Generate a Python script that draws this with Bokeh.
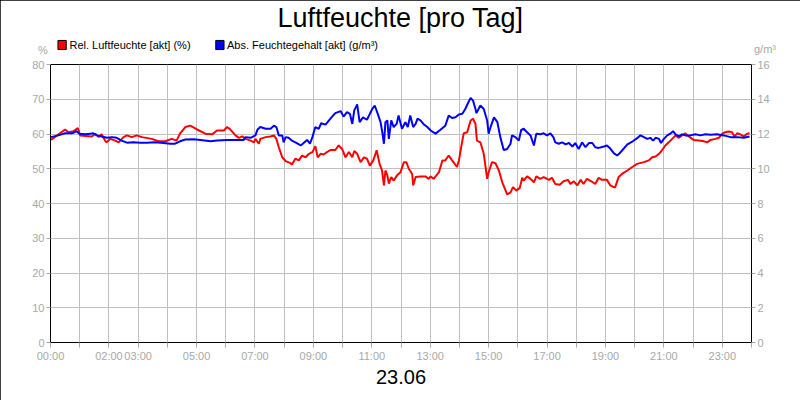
from bokeh.plotting import figure
from bokeh.models import Range1d, LinearAxis, FixedTicker, Label, ColumnDataSource
from bokeh.embed import file_html
from bokeh.resources import INLINE

# --- data ---------------------------------------------------------------
title_text = "Luftfeuchte [pro Tag]"
date_text = "23.06"
rel_name = "Rel. Luftfeuchte [akt] (%)"
abs_name = "Abs. Feuchtegehalt [akt] (g/m³)"
left_unit = "%"
right_unit = "g/m³"

tick_hours = list(range(0, 25))
label_hours = [0, 2, 3, 5, 7, 9, 11, 13, 15, 17, 19, 21, 23]
left_ticks = [0, 10, 20, 30, 40, 50, 60, 70, 80]
right_ticks = [0, 2, 4, 6, 8, 10, 12, 14, 16]

# relative humidity (%), time in minutes since 00:00
rel_t = [1, 30, 37, 47, 56, 59, 61, 85, 92, 99, 105, 112, 115, 123, 133, 140, 150, 157,
         167, 177, 188, 208, 222, 236, 249, 259, 266, 277, 287, 301, 318, 332, 342, 356,
         363, 370, 380, 387, 394, 401, 411, 418, 421, 428, 431, 442, 452, 459, 464, 469,
         476, 483, 493, 496, 503, 510, 517, 524, 531, 538, 544, 549, 555, 561, 568, 575,
         585, 592, 599, 606, 613, 620, 624, 630, 637, 644, 650, 656, 663, 670, 676, 681,
         685, 688, 692, 695, 700, 705, 712, 719, 726, 731, 736, 743, 745, 750, 760, 770,
         777, 781, 787, 798, 805, 811, 818, 825, 835, 839, 846, 849, 856, 863, 868, 873,
         876, 883, 890, 897, 900, 907, 914, 921, 928, 935, 938, 945, 950, 957, 964, 969,
         972, 979, 986, 993, 998, 1006, 1013, 1024, 1030, 1037, 1046, 1054, 1063, 1068,
         1075, 1082, 1089, 1095, 1102, 1111, 1119, 1126, 1133, 1143, 1150, 1157, 1160,
         1167, 1174, 1185, 1195, 1205, 1219, 1229, 1236, 1243, 1250, 1256, 1263, 1270,
         1277, 1284, 1291, 1297, 1304, 1311, 1321, 1332, 1342, 1349, 1356, 1366, 1373,
         1380, 1386, 1393, 1400, 1405, 1411, 1417, 1424, 1431, 1436]
rel_v = [58.3, 61.3, 60.5, 60.8, 61.7, 60.5, 59.6, 59.3, 60.1, 59.1, 59.9, 58.1, 57.6,
         58.6, 58.1, 57.6, 59.1, 59.6, 59.1, 59.6, 59.1, 58.6, 57.9, 57.9, 58.6, 58.1,
         60.1, 62.0, 62.4, 61.3, 60.1, 59.9, 61.0, 61.0, 62.0, 61.2, 59.6, 58.9, 59.3,
         58.6, 58.1, 57.6, 58.6, 57.2, 58.6, 59.1, 59.3, 59.6, 58.6, 56.2, 53.3, 52.2,
         51.6, 51.2, 52.9, 52.4, 53.8, 53.3, 54.3, 54.8, 56.5, 53.3, 54.3, 54.1, 54.8,
         55.4, 55.4, 56.7, 55.7, 53.3, 54.8, 53.3, 55.1, 54.3, 51.9, 53.3, 52.9, 50.9,
         52.4, 55.3, 51.4, 49.5, 45.2, 49.5, 48.1, 45.7, 47.6, 46.6, 48.1, 49.0, 51.9,
         51.9, 50.0, 48.5, 45.2, 47.6, 47.8, 47.8, 47.1, 47.8, 47.1, 49.0, 52.4, 52.4,
         53.8, 52.4, 50.5, 52.4, 58.1, 60.2, 60.5, 63.9, 64.4, 62.9, 58.1, 57.6, 54.3,
         47.1, 49.0, 51.9, 51.6, 49.5, 46.1, 43.7, 42.6, 43.2, 44.7, 43.7, 44.5, 47.4,
         46.6, 47.8, 47.1, 46.1, 47.8, 47.1, 47.6, 46.8, 47.4, 45.6, 45.4, 46.4, 46.8,
         45.6, 46.4, 45.2, 46.8, 45.6, 47.1, 46.4, 45.6, 47.4, 46.8, 46.8, 45.2, 44.7,
         44.7, 47.6, 48.5, 49.5, 50.5, 51.4, 51.9, 52.4, 53.3, 53.5, 54.3, 55.3, 56.7,
         57.6, 58.6, 59.6, 58.9, 59.6, 60.2, 59.3, 58.3, 58.1, 57.9, 57.6, 58.3, 58.6,
         58.9, 60.1, 60.5, 60.7, 60.5, 59.3, 60.2, 59.9, 59.3, 60.1, 60.2]

# absolute humidity (g/m³), time in minutes since 00:00
abs_t = [1, 16, 30, 44, 54, 59, 71, 82, 88, 95, 105, 116, 126, 136, 146, 157, 170, 184,
         198, 215, 232, 246, 256, 266, 277, 294, 308, 329, 342, 363, 383, 397, 401, 411,
         421, 425, 431, 442, 452, 459, 464, 469, 476, 479, 483, 489, 496, 503, 514, 520,
         527, 533, 538, 544, 551, 556, 565, 575, 585, 596, 602, 609, 615, 620, 624, 630,
         635, 642, 650, 656, 661, 666, 671, 678, 681, 685, 688, 692, 695, 700, 705, 711,
         715, 722, 729, 734, 739, 745, 750, 754, 760, 766, 774, 781, 791, 801, 811, 818,
         825, 832, 839, 846, 852, 857, 863, 868, 873, 875, 883, 890, 897, 900, 904, 911,
         918, 924, 931, 938, 945, 948, 955, 962, 967, 972, 979, 986, 993, 998, 1006, 1013,
         1020, 1027, 1033, 1037, 1044, 1051, 1058, 1065, 1072, 1078, 1085, 1092, 1099,
         1106, 1113, 1119, 1126, 1137, 1143, 1150, 1157, 1164, 1168, 1175, 1185, 1196,
         1206, 1212, 1219, 1226, 1232, 1238, 1243, 1250, 1254, 1260, 1267, 1273, 1279,
         1284, 1291, 1297, 1304, 1314, 1325, 1335, 1345, 1356, 1369, 1383, 1397, 1411,
         1424, 1436]
abs_v = [11.82, 11.92, 12.04, 12.04, 12.16, 12.02, 11.98, 12.02, 12.04, 11.92, 11.86,
         11.78, 11.82, 11.78, 11.62, 11.50, 11.52, 11.50, 11.50, 11.52, 11.48, 11.44,
         11.44, 11.58, 11.68, 11.70, 11.66, 11.58, 11.62, 11.66, 11.66, 11.66, 11.82,
         11.78, 11.92, 12.24, 12.40, 12.30, 12.30, 12.48, 12.40, 11.92, 11.92, 11.52,
         11.82, 11.78, 11.62, 11.52, 11.34, 11.48, 11.66, 11.44, 11.82, 12.40, 12.30,
         12.62, 12.54, 12.88, 13.20, 13.32, 13.00, 13.26, 13.16, 12.58, 13.36, 13.70,
         12.68, 12.96, 12.82, 13.16, 13.44, 13.64, 13.26, 12.68, 12.20, 11.44, 12.68,
         12.78, 11.72, 12.78, 12.40, 12.58, 13.06, 12.30, 12.68, 12.40, 13.06, 12.40,
         12.58, 12.88, 12.78, 12.58, 12.40, 12.20, 12.02, 12.24, 12.48, 13.06, 12.92,
         12.96, 13.12, 13.16, 13.44, 13.74, 14.08, 13.92, 13.44, 13.20, 13.64, 13.44,
         12.78, 12.02, 12.40, 12.96, 12.68, 11.82, 11.08, 11.14, 11.44, 11.92, 11.82,
         11.62, 12.24, 12.30, 12.10, 11.92, 11.34, 12.02, 11.98, 12.04, 11.92, 12.04,
         11.82, 11.52, 11.44, 11.52, 11.40, 11.48, 11.28, 11.48, 11.14, 11.52, 11.24,
         11.48, 11.48, 11.24, 11.20, 11.28, 11.34, 11.16, 10.90, 10.76, 10.86, 11.08,
         11.40, 11.58, 11.78, 11.92, 11.82, 11.72, 11.78, 11.62, 11.78, 11.72, 11.48,
         11.72, 11.92, 12.02, 12.16, 11.98, 11.86, 11.98, 11.92, 11.92, 11.98, 11.92,
         11.98, 11.96, 11.98, 11.92, 11.82, 11.82, 11.78, 11.86]

# --- figure -------------------------------------------------------------
FONT = "Liberation Sans"
GRAY = "#a8a8a8"

p = figure(width=800, height=400, output_backend="svg", toolbar_location=None,
           x_range=Range1d(0, 1440), y_range=Range1d(0, 80),
           min_border_left=50, min_border_right=49, min_border_top=64,
           min_border_bottom=58)
p.styles = {"outline": "1px solid black", "outline-offset": "-1px"}
p.extra_y_ranges = {"abs": Range1d(0, 16)}
p.background_fill_color = "white"
p.border_fill_color = "white"
p.outline_line_color = "black"
p.outline_line_width = 1

p.xaxis.ticker = FixedTicker(ticks=[h * 60 for h in tick_hours])
p.xaxis.major_label_overrides = {
    h * 60: ("%02d:00" % h if h in label_hours else "") for h in tick_hours}
p.yaxis.ticker = FixedTicker(ticks=left_ticks)

right = LinearAxis(y_range_name="abs", ticker=FixedTicker(ticks=right_ticks))
p.add_layout(right, "right")

for ax in [p.xaxis[0], p.yaxis[0], right]:
    ax.axis_line_color = "black"
    ax.major_tick_line_color = GRAY
    ax.major_tick_in = 0
    ax.minor_tick_line_color = None
    ax.major_label_text_color = GRAY
    ax.major_label_text_font = FONT
    ax.major_label_text_font_size = "11px"
p.xaxis.major_tick_out = 5
p.xaxis.major_label_standoff = 2
p.yaxis[0].major_tick_out = 4
p.yaxis[0].major_label_standoff = 2
right.major_tick_out = 4
right.major_label_standoff = 2

p.xaxis.axis_label = date_text
p.xaxis.axis_label_text_font = FONT
p.xaxis.axis_label_text_font_size = "20px"
p.xaxis.axis_label_text_font_style = "normal"
p.xaxis.axis_label_text_color = "black"
p.xaxis.axis_label_standoff = 5

p.xgrid.ticker = FixedTicker(ticks=[h * 60 for h in tick_hours])
p.ygrid.ticker = FixedTicker(ticks=left_ticks)
p.xgrid.grid_line_color = "#c0c0c0"
p.ygrid.grid_line_color = "#c0c0c0"

src_rel = ColumnDataSource(dict(t=rel_t, v=rel_v))
src_abs = ColumnDataSource(dict(t=abs_t, v=abs_v))
p.line("t", "v", source=src_rel, line_color="#ff0000", line_width=2)
p.line("t", "v", source=src_abs, line_color="#0000ff", line_width=2, y_range_name="abs")


def side_label(where, x, y, text, size, color="black", align="left"):
    p.add_layout(Label(x=x, y=y, x_units="screen", y_units="screen", text=text,
                       text_font=FONT, text_font_size=size, text_color=color,
                       text_align=align, text_baseline="middle"), where)


# panels above the frame (stacked outward: title, legend texts)
side_label("above", 350, 46.4, title_text, "27px", align="center")
side_label("above", 19, -10.4, rel_name, "11px")
side_label("above", 176.5, -22.7, abs_name, "11px")

# unit captions next to the axes, legend swatches left of the frame
side_label("left", 23.3, 292.8, left_unit, "11px", GRAY, "center")
side_label("right", -7.5, 293.3, right_unit, "11px", GRAY, "center")
for x, col in [(50.6, "#ff0000"), (216.4, "#0000ff")]:
    p.add_layout(Label(x=x, y=297.5, x_units="screen", y_units="screen", text=" ",
                       text_font_size="1px", text_align="center", text_baseline="middle",
                       padding=4, background_fill_color=col, background_fill_alpha=1,
                       border_line_color="black", border_line_width=1), "left")

open("out.html", "w").write(file_html(p, INLINE))
